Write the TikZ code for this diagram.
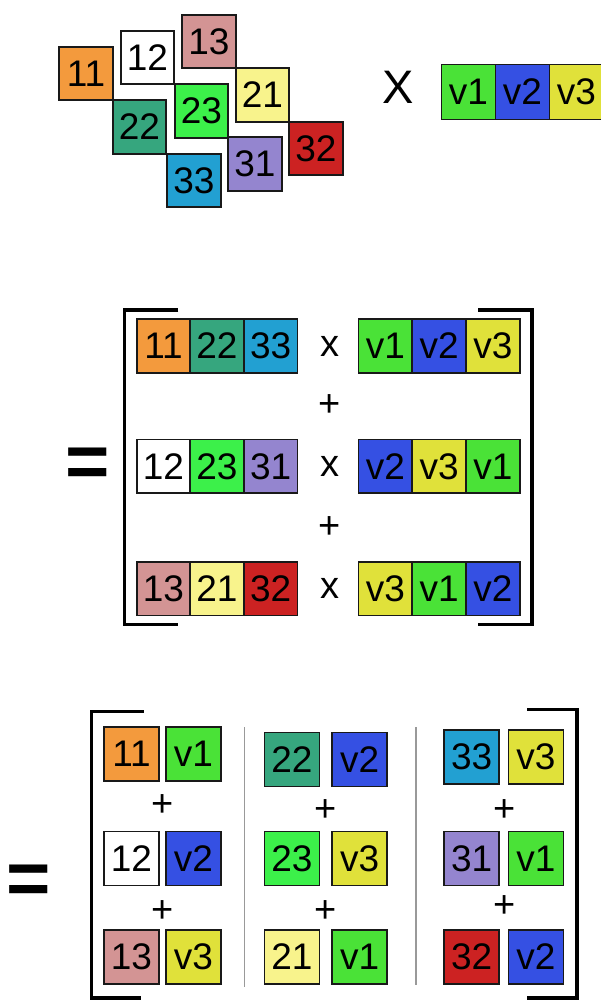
\documentclass[tikz,border=0pt]{standalone}
\usepackage{fontspec}
\setmainfont{Liberation Sans}
\definecolor{c11}{HTML}{F39A3D}
\definecolor{c12}{HTML}{FFFFFF}
\definecolor{c13}{HTML}{D39494}
\definecolor{c21}{HTML}{F8F38C}
\definecolor{c22}{HTML}{36A67E}
\definecolor{c23}{HTML}{3CF04A}
\definecolor{c31}{HTML}{9485CF}
\definecolor{c32}{HTML}{CC2222}
\definecolor{c33}{HTML}{22A0D2}
\definecolor{cv1}{HTML}{4AE237}
\definecolor{cv2}{HTML}{3550E3}
\definecolor{cv3}{HTML}{E0E13A}
\newcommand\cellfont{\fontsize{37}{40}\selectfont}
\begin{document}
\begin{tikzpicture}[x=1pt,y=-1pt,
  cell/.style={draw=black!90,line width=1.6pt,minimum width=53.5pt,minimum height=53.5pt,inner sep=0pt,font=\cellfont},
  bigcell/.style={cell,minimum width=55pt,minimum height=54pt},
  vcell/.style={cell,minimum width=54pt,minimum height=55pt},
  brk/.style={line width=3.5pt,line join=miter,line cap=butt},
  sep/.style={draw=black!40,line width=1.4pt},
  opsign/.style={inner sep=0pt,font=\fontsize{38}{40}\selectfont},
  eqsign/.style={inner sep=0pt,font=\fontsize{76}{80}\selectfont\bfseries}]
\useasboundingbox (0,0) rectangle (601,1001);
% ---------- section 1 ----------
\node[cell,fill=c11] (a11) at (86,73.5) {11};
\node[cell,fill=c12] (a12) at (147.5,57.5) {12};
\node[cell,fill=c13] (a13) at (209,41.5) {13};
\node[cell,fill=c22] (a22) at (139.5,127) {22};
\node[cell,fill=c23] (a23) at (201.5,111) {23};
\node[cell,fill=c21] (a21) at (262.5,95) {21};
\node[cell,fill=c33] (a33) at (194,180.5) {33};
\node[cell,fill=c31] (a31) at (255,164) {31};
\node[cell,fill=c32] (a32) at (316,148.5) {32};
\node[inner sep=0pt,font=\fontsize{47}{50}\selectfont] (times0) at (398,87) {X};
\node[vcell,fill=cv1] (av1) at (468.3,91.8) {v1};
\node[vcell,fill=cv2] (av2) at (522.3,91.8) {v2};
\node[vcell,fill=cv3] (av3) at (576.3,91.8) {v3};
% ---------- section 2 ----------
\node[eqsign] (eq1) at (88,468) {=};
\node[cell,fill=c11] (b11) at (163.5,346) {11};
\node[cell,fill=c22] (b22) at (217,346) {22};
\node[cell,fill=c33] (b33) at (270.7,346) {33};
\node[cell,fill=c12] (b12) at (163.5,466.3) {12};
\node[cell,fill=c23] (b23) at (217,466.3) {23};
\node[cell,fill=c31] (b31) at (270.7,466.3) {31};
\node[cell,fill=c13] (b13) at (163.5,588.7) {13};
\node[cell,fill=c21] (b21) at (217,588.7) {21};
\node[cell,fill=c32] (b32) at (270.7,588.7) {32};
\node[opsign] (bx1) at (330,346) {x};
\node[opsign] (bx2) at (330,466.3) {x};
\node[opsign] (bx3) at (330,588.7) {x};
\node[opsign] (bp1) at (330,406) {+};
\node[opsign] (bp2) at (330,528) {+};
\node[cell,fill=cv1] (bv11) at (385.3,346) {v1};
\node[cell,fill=cv2] (bv12) at (439.2,346) {v2};
\node[cell,fill=cv3] (bv13) at (493,346) {v3};
\node[cell,fill=cv2] (bv21) at (385.3,466.3) {v2};
\node[cell,fill=cv3] (bv22) at (439.2,466.3) {v3};
\node[cell,fill=cv1] (bv23) at (493,466.3) {v1};
\node[cell,fill=cv3] (bv31) at (385.3,588.7) {v3};
\node[cell,fill=cv1] (bv32) at (439.2,588.7) {v1};
\node[cell,fill=cv2] (bv33) at (493,588.7) {v2};
\draw[brk] (178.3,310) -- (124.7,310) -- (124.7,624.5) -- (178.3,624.5);
\draw[brk] (478.3,310) -- (532,310) -- (532,624.5) -- (478.3,624.5);
% ---------- section 3 ----------
\node[eqsign] (eq2) at (29,885) {=};
\node[bigcell,fill=c11] (c11n) at (131.5,754) {11};
\node[bigcell,fill=cv1] (c11v) at (193.5,754) {v1};
\node[bigcell,fill=c12] (c12n) at (131.5,858.3) {12};
\node[bigcell,fill=cv2] (c12v) at (193.5,858.3) {v2};
\node[bigcell,fill=c13] (c13n) at (131.5,956.8) {13};
\node[bigcell,fill=cv3] (c13v) at (193.5,956.8) {v3};
\node[opsign] (cp11) at (162.5,805.5) {+};
\node[opsign] (cp12) at (162.5,912) {+};
\node[bigcell,fill=c22] (c22n) at (292,759.5) {22};
\node[bigcell,fill=cv2] (c22v) at (359.7,759.5) {v2};
\node[bigcell,fill=c23] (c23n) at (292,858.3) {23};
\node[bigcell,fill=cv3] (c23v) at (359.7,858.3) {v3};
\node[bigcell,fill=c21] (c21n) at (292,956.8) {21};
\node[bigcell,fill=cv1] (c21v) at (359.7,956.8) {v1};
\node[opsign] (cp21) at (325.5,810.5) {+};
\node[opsign] (cp22) at (325.5,912) {+};
\node[bigcell,fill=c33] (c33n) at (471.7,757) {33};
\node[bigcell,fill=cv3] (c33v) at (535.8,757) {v3};
\node[bigcell,fill=c31] (c31n) at (471.7,858.3) {31};
\node[bigcell,fill=cv1] (c31v) at (535.8,858.3) {v1};
\node[bigcell,fill=c32] (c32n) at (471.7,956.8) {32};
\node[bigcell,fill=cv2] (c32v) at (535.8,956.8) {v2};
\node[opsign] (cp31) at (504.8,810.5) {+};
\node[opsign] (cp32) at (504.8,906.5) {+};
\draw[sep] (244.5,727) -- (244.5,987);
\draw[sep] (416,727) -- (416,985);
\draw[brk] (143.8,711.7) -- (91.5,711.7) -- (91.5,998) -- (141,998);
\draw[brk] (527,709.3) -- (577,709.3) -- (577,998) -- (527,998);
\end{tikzpicture}
\end{document}
